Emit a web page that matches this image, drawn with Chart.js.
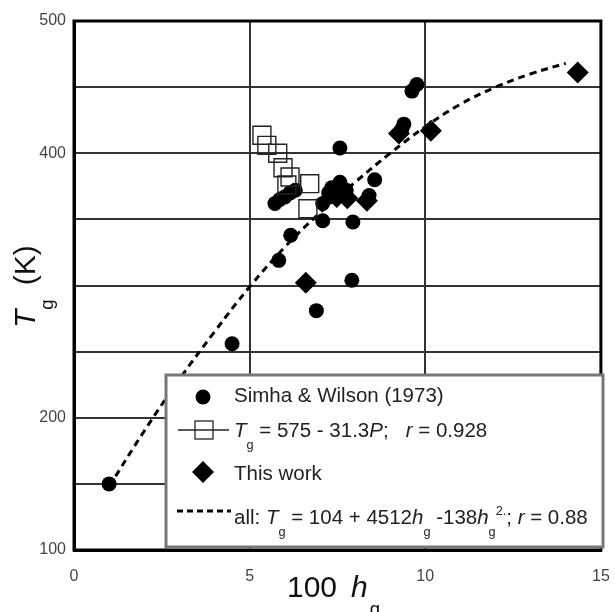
<!DOCTYPE html>
<html><head><meta charset="utf-8">
<script src="https://cdn.jsdelivr.net/npm/chart.js@4/dist/chart.umd.min.js"></script>
<style>html,body{margin:0;padding:0;background:#fff}#wrap{width:615px;height:612px;position:relative}</style>
</head><body><div id="wrap"><canvas id="c" width="615" height="612"></canvas></div>
<script>
// ---- data ----
const yTickLabels = [100, 200, 400, 500];
const simhaX = [1.0, 4.5, 5.83, 6.17, 5.72, 5.86, 6.0, 6.15, 6.3, 6.9, 7.08, 7.08, 7.25, 7.34, 7.57, 7.57, 7.91, 7.94, 7.75, 8.4, 8.56, 9.39, 9.33, 9.62, 9.76];
const simhaY = [150, 256, 319, 338, 362, 365, 367, 370, 372, 281, 349, 362, 370, 374, 378, 404, 304, 348, 372, 368, 380, 422, 418, 447, 452];
const squareX = [5.35, 5.49, 5.80, 5.95, 6.15, 6.06, 6.71, 6.66];
const squareY = [413.6, 406, 400, 389, 382, 376, 377, 358];
const workX = [6.6, 7.48, 7.78, 8.34, 9.25, 10.16, 14.34];
const workY = [302, 367, 366, 364, 415, 417, 461];
const fitX = [1, 2, 3, 4, 5, 6, 7, 8, 9, 10, 11, 12, 13, 14];
const fitY = [148, 190, 229, 265, 299, 329, 355, 378, 400, 420, 437, 450, 460, 468];

const pts = (xs, ys) => xs.map((x, i) => ({x, y: ys[i]}));
const FONT = '"Liberation Sans", Arial, sans-serif';

function drawRich(ctx, x, y, parts, base) {
  for (const p of parts) {
    if (p.gap) { x += p.gap; continue; }
    let size = base, dy = 0;
    if (p.sub) { size = base * 0.62; dy = base * 0.6; }
    if (p.sup) { size = base * 0.62; dy = -base * 0.45; }
    ctx.font = (p.i ? 'italic ' : '') + size + 'px ' + FONT;
    ctx.fillText(p.t, x, y + dy);
    x += ctx.measureText(p.t).width;
  }
  return x;
}

const decor = {
  id: 'decor',
  beforeDatasetsDraw(chart) {
    const {ctx, chartArea: a} = chart;
    ctx.save();
    ctx.strokeStyle = '#000'; ctx.lineWidth = 3;
    ctx.strokeRect(a.left, a.top, a.right - a.left, a.bottom - a.top);
    ctx.restore();
  },
  afterDraw(chart) {
    const {ctx} = chart;
    ctx.save();
    // legend box
    const L = 166, T = 375, R = 603, B = 547;
    ctx.fillStyle = '#fff';
    ctx.fillRect(L, T, R - L, B - T);
    ctx.strokeStyle = '#777'; ctx.lineWidth = 3;
    ctx.strokeRect(L, T, R - L, B - T);
    // markers
    ctx.fillStyle = '#000';
    ctx.beginPath(); ctx.arc(203, 397, 7.5, 0, Math.PI * 2); ctx.fill();
    ctx.strokeStyle = '#222'; ctx.lineWidth = 1.3;
    ctx.beginPath(); ctx.moveTo(178, 430); ctx.lineTo(229, 430); ctx.stroke();
    ctx.strokeRect(195, 421, 18, 18);
    ctx.beginPath(); ctx.moveTo(203, 461); ctx.lineTo(214, 472); ctx.lineTo(203, 483); ctx.lineTo(192, 472); ctx.closePath(); ctx.fill();
    ctx.strokeStyle = '#000'; ctx.lineWidth = 3; ctx.setLineDash([6, 4]);
    ctx.beginPath(); ctx.moveTo(177, 511); ctx.lineTo(231, 511); ctx.stroke();
    ctx.setLineDash([]);
    // texts
    ctx.fillStyle = '#222'; ctx.textBaseline = 'alphabetic'; ctx.textAlign = 'left';
    const fs = 20.5;
    drawRich(ctx, 234, 402, [{t: 'Simha & Wilson (1973)'}], fs);
    drawRich(ctx, 234, 437, [{t: 'T', i: 1}, {t: 'g', sub: 1}, {t: ' = 575 - 31.3'}, {t: 'P', i: 1}, {t: ';   '}, {t: 'r', i: 1}, {t: ' = 0.928'}], fs);
    drawRich(ctx, 234, 480, [{t: 'This work'}], fs);
    drawRich(ctx, 234, 524, [{t: 'all: '}, {t: 'T', i: 1}, {t: 'g', sub: 1}, {t: ' = 104 + 4512'}, {t: 'h', i: 1}, {t: 'g', sub: 1}, {t: ' -138'}, {t: 'h', i: 1}, {t: 'g', sub: 1}, {t: '2.', sup: 1}, {t: '; '}, {t: 'r', i: 1}, {t: ' = 0.88'}], fs);
    // x axis title
    ctx.fillStyle = '#111';
    drawRich(ctx, 287, 597, [{t: '100'}, {gap: 14}, {t: 'h', i: 1}, {gap: 2}, {t: 'g', sub: 1}], 30);
    // y axis title (rotated)
    ctx.translate(35, 328);
    ctx.rotate(-Math.PI / 2);
    drawRich(ctx, 0, 0, [{t: 'T', i: 1}, {t: 'g', sub: 1}, {gap: 14}, {t: '(K)'}], 30);
    ctx.restore();
  }
};

new Chart(document.getElementById('c'), {
  type: 'scatter',
  data: {
    datasets: [
      {label: 'Simha & Wilson (1973)', data: pts(simhaX, simhaY), pointStyle: 'circle', pointRadius: 7.5, pointBackgroundColor: '#000', pointBorderWidth: 0, order: 2},
      {label: 'Tg = 575 - 31.3P', data: pts(squareX, squareY), pointStyle: 'rect', pointRadius: 12.7, pointBackgroundColor: 'rgba(0,0,0,0)', pointBorderColor: '#222', pointBorderWidth: 1.4, showLine: false, order: 1},
      {label: 'This work', data: pts(workX, workY), pointStyle: 'rectRot', pointRadius: 11, pointBackgroundColor: '#000', pointBorderWidth: 0, order: 3},
      {label: 'all', data: pts(fitX, fitY), showLine: true, pointRadius: 0, borderColor: '#000', borderWidth: 3, borderDash: [7, 5], tension: 0.4, order: 4}
    ]
  },
  options: {
    responsive: false, animation: false, devicePixelRatio: 1,
    layout: {padding: {top: 21, right: 13, left: 0, bottom: 0}},
    plugins: {legend: {display: false}, tooltip: {enabled: false}},
    scales: {
      x: {
        type: 'linear', min: 0, max: 15,
        ticks: {stepSize: 5, color: '#444', font: {size: 16, family: FONT}, padding: 17, maxRotation: 0},
        grid: {color: '#333', lineWidth: 2, drawTicks: false},
        border: {color: '#000', width: 3},
        afterFit: s => { s.height = 62; s.paddingRight = 0; s.paddingLeft = 0; }
      },
      y: {
        min: 100, max: 500,
        ticks: {stepSize: 50, color: '#444', font: {size: 16, family: FONT}, padding: 8,
          callback: v => yTickLabels.includes(v) ? String(v) : ''},
        grid: {color: '#333', lineWidth: 2, drawTicks: false},
        border: {color: '#000', width: 3},
        afterFit: s => { s.width = 74; s.paddingTop = 0; s.paddingBottom = 0; }
      }
    }
  },
  plugins: [decor]
});
</script>
</body></html>
